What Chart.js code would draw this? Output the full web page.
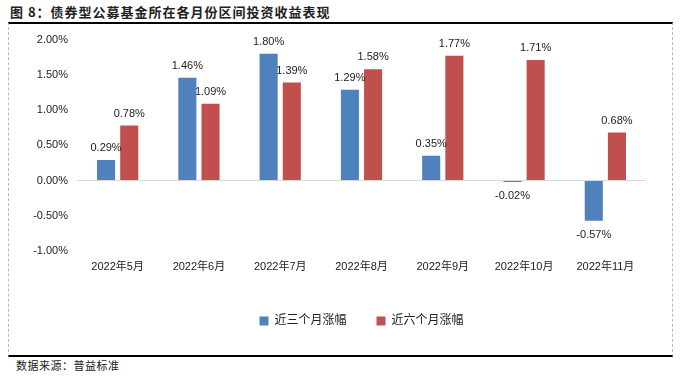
<!DOCTYPE html>
<html>
<head>
<meta charset="utf-8">
<script src="https://cdn.jsdelivr.net/npm/chart.js@4/dist/chart.umd.min.js"></script>
<style>
    body { margin: 0; width: 683px; height: 376px; background: #fff; position: relative; overflow: hidden;
           font-family: "Noto Sans CJK SC", "Liberation Sans", sans-serif; }
    #title { position: absolute; left: 10px; top: 2px; font-size: 13px; font-weight: bold; color: #222; letter-spacing: 1px; }
    #frame { position: absolute; left: 8px; top: 22px; width: 663px; height: 331px;
             border-top: 2px solid #000; border-bottom: 2px solid #000;
             border-left: 1px dashed #bbb; border-right: 1px dashed #bbb; }
    #wrap { position: absolute; left: 9px; top: 24px; width: 663px; height: 330px; }
    #source { position: absolute; left: 16px; top: 357px; font-size: 11px; color: #222; letter-spacing: 0.5px; }
</style>
</head>
<body>
<div id="title">图 8：债券型公募基金所在各月份区间投资收益表现</div>
<div id="frame"></div>
<div id="wrap"><canvas id="returnsChart"></canvas></div>
<div id="source">数据来源：普益标准</div>
<script>
const MONTHS = ['2022年5月', '2022年6月', '2022年7月', '2022年8月', '2022年9月', '2022年10月', '2022年11月'];
const RET_3M = [0.29, 1.46, 1.80, 1.29, 0.35, -0.02, -0.57];
const RET_6M = [0.78, 1.09, 1.39, 1.58, 1.77, 1.71, 0.68];
const SERIES_NAMES = ['近三个月涨幅', '近六个月涨幅'];

const FONT = '"Liberation Sans", "Noto Sans CJK SC", sans-serif';

// value labels above / below each bar
const barLabels = {
    id: 'barLabels',
    afterDatasetsDraw(chart) {
        const ctx = chart.ctx;
        ctx.save();
        ctx.font = '11px ' + FONT;
        ctx.fillStyle = '#222';
        ctx.textAlign = 'center';
        ctx.textBaseline = 'middle';
        chart.data.datasets.forEach((ds, i) => {
            chart.getDatasetMeta(i).data.forEach((bar, j) => {
                const v = ds.data[j];
                const y = v >= 0 ? bar.y - 12 : bar.y + 14;
                ctx.fillText(v.toFixed(2) + '%', bar.x, y);
            });
        });
        ctx.restore();
    }
};

// center the legend under the plot area rather than the whole canvas
const legendUnderPlot = {
    id: 'legendUnderPlot',
    afterLayout(chart) {
        if (!chart.legend) return;
        chart.legend.left = chart.chartArea.left;
        chart.legend.right = chart.chartArea.right;
    }
};

const ctx = document.getElementById('returnsChart').getContext('2d');
new Chart(ctx, {
    type: 'bar',
    data: {
        labels: MONTHS,
        datasets: [
            { label: SERIES_NAMES[0], data: RET_3M, backgroundColor: '#4f81bd' },
            { label: SERIES_NAMES[1], data: RET_6M, backgroundColor: '#c0504d' }
        ]
    },
    options: {
        responsive: true, maintainAspectRatio: false, animation: false,
        layout: { padding: { top: 11, right: 26, bottom: 17, left: 0 } },
        datasets: { bar: { barPercentage: 0.78, categoryPercentage: 0.57 } },
        plugins: {
            legend: {
                position: 'bottom',
                labels: { boxWidth: 9, boxHeight: 9, padding: 30, color: '#222', font: { family: FONT, size: 12 } }
            },
            tooltip: { enabled: false }
        },
        scales: {
            x: {
                grid: { display: false }, border: { display: false },
                ticks: { color: '#222', font: { family: FONT, size: 11 }, padding: 1, maxRotation: 0 },
                afterFit(scale) { scale.height = 34; }
            },
            y: {
                min: -1, max: 2,
                border: { display: false },
                grid: { color: c => c.tick.value === 0 ? '#d9d9d9' : 'rgba(0,0,0,0)', drawTicks: false },
                ticks: { stepSize: 0.5, color: '#222', font: { family: FONT, size: 11 }, padding: 9,
                         callback: v => v.toFixed(2) + '%' },
                afterFit(scale) { scale.width = 68; }
            }
        }
    },
    plugins: [barLabels, legendUnderPlot]
});
</script>
</body>
</html>
